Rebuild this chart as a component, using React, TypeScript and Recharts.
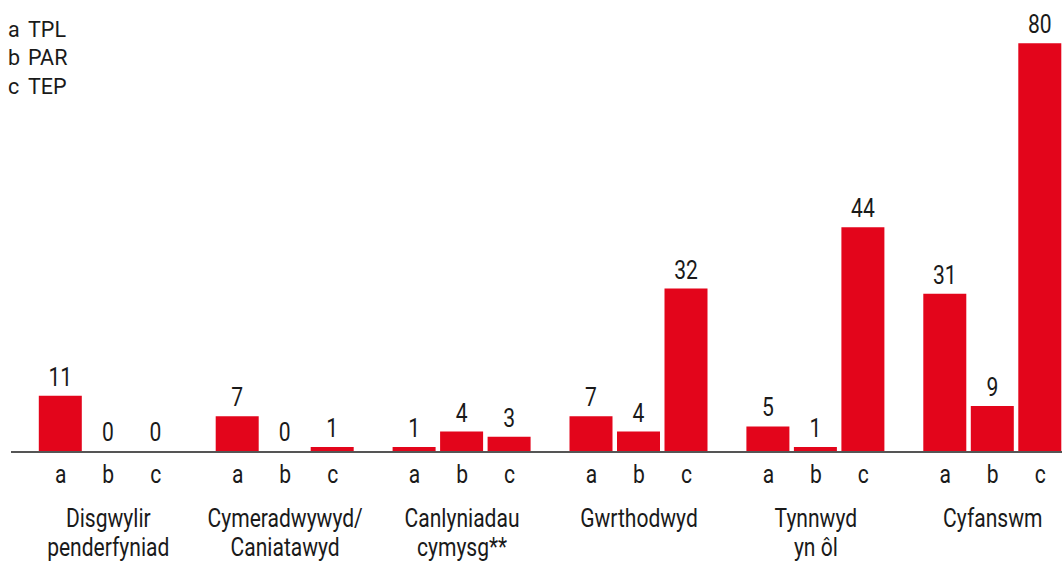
import { BarChart, Bar, XAxis, YAxis, LabelList } from "recharts";

const groups = [
  ["Disgwylir", "penderfyniad"],
  ["Cymeradwywyd/", "Caniatawyd"],
  ["Canlyniadau", "cymysg**"],
  ["Gwrthodwyd"],
  ["Tynnwyd", "yn ôl"],
  ["Cyfanswm"],
];
const tplValues = [11, 7, 1, 7, 5, 31];
const parValues = [0, 0, 4, 4, 1, 9];
const tepValues = [0, 1, 3, 32, 44, 80];
const seriesKeys = ["a", "b", "c"];
const legendItems = [
  ["a", "TPL"],
  ["b", "PAR"],
  ["c", "TEP"],
];

const chartData = groups.map((lines, i) => ({
  name: lines.join(" "),
  a: tplValues[i],
  b: parValues[i],
  c: tepValues[i],
}));

const FONT = 'Roboto, "Liberation Sans", sans-serif';
const RED = "#e3051b";
const TEXT = "#1a1a1a";
const PITCH = 47.5;
const SQUEEZE = 0.81; // the original uses a condensed face

function NarrowText({ x, y, children }: { x: number; y: number; children: any }) {
  return (
    <text
      transform={`translate(${x} ${y}) scale(${SQUEEZE} 1)`}
      textAnchor="middle"
      fontFamily={FONT}
      fontSize={26}
      fill={TEXT}
    >
      {children}
    </text>
  );
}

function GroupTick({ x, y, index }: { x?: number; y?: number; index?: number }) {
  const lines = groups[index ?? 0];
  const cx = x ?? 0;
  const top = y ?? 0;
  return (
    <g>
      {seriesKeys.map((k, i) => (
        <NarrowText key={k} x={cx + (i - 1) * PITCH} y={top + 30.5}>
          {k}
        </NarrowText>
      ))}
      {lines.map((line, i) => (
        <NarrowText key={line} x={cx} y={top + 75 + i * 28.5}>
          {line}
        </NarrowText>
      ))}
    </g>
  );
}

function ValueLabel(props: any) {
  const { x, y, width, value } = props;
  return (
    <NarrowText x={Number(x) + Number(width) / 2} y={Number(y) - 10}>
      {value}
    </NarrowText>
  );
}

export default function App() {
  return (
    <div
      style={{
        position: "absolute",
        left: 0,
        top: 0,
        width: 1062,
        height: 563,
        overflow: "hidden",
        background: "#fff",
      }}
    >
      <div style={{ position: "absolute", left: 8, top: 16, fontFamily: FONT, fontSize: 21.5, color: TEXT }}>
        {legendItems.map(([k, label]) => (
          <div key={k} style={{ height: 28.3, lineHeight: "28.3px", whiteSpace: "pre" }}>
            <span style={{ display: "inline-block", width: 20 }}>{k}</span>
            {label}
          </div>
        ))}
      </div>
      <BarChart
        width={1090}
        height={563}
        data={chartData}
        margin={{ top: 43.3, right: 8.8, left: 11, bottom: 0 }}
        barSize={43}
        barGap={4.5}
      >
        <XAxis
          dataKey="name"
          interval={0}
          padding={{ left: 8.8, right: 0 }}
          axisLine={{ stroke: "#555555", strokeWidth: 2 }}
          tickLine={false}
          tickSize={0}
          tickMargin={0}
          tick={<GroupTick />}
          height={111}
        />
        <YAxis hide domain={[0, 80]} />
        {seriesKeys.map((k) => (
          <Bar key={k} dataKey={k} fill={RED} minPointSize={1} isAnimationActive={false}>
            <LabelList dataKey={k} content={ValueLabel} />
          </Bar>
        ))}
      </BarChart>
    </div>
  );
}
